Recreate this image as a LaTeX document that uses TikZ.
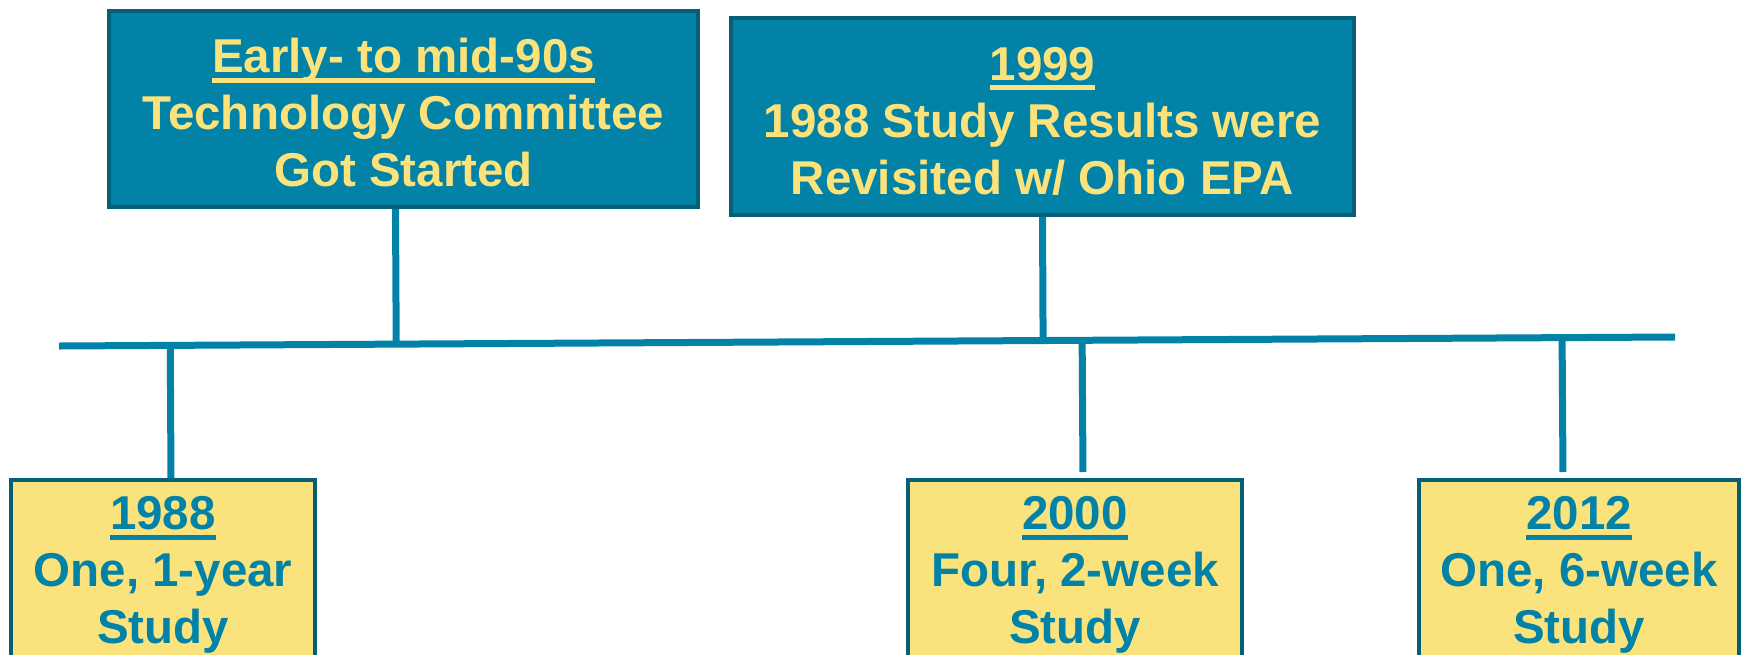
\documentclass[tikz,border=0pt]{standalone}
\usepackage{fontspec}
\setmainfont{Liberation Sans}
\usetikzlibrary{calc}

\definecolor{oceanfill}{RGB}{2,130,167}
\definecolor{oceanedge}{RGB}{5,95,118}
\definecolor{sandfill}{RGB}{250,227,124}
\definecolor{sandtext}{RGB}{251,226,122}

% underlined year heading
\newcommand\yearmark[1]{\setbox0=\hbox{#1}\rlap{\rule[-10pt]{\wd0}{5pt}}\box0}
% invisible struts that nudge a text block inside its box
\newcommand\headroom{\rule{0pt}{42pt}}
\newcommand\footroom{\rule[-14pt]{0pt}{14pt}}

\begin{document}
\begin{tikzpicture}[x=1pt,y=-1pt,
  eventtext/.style={font=\bfseries\fontsize{47.5}{57}\selectfont, align=center, inner sep=0pt},
  upperbox/.style={eventtext, draw=oceanedge, line width=4pt, fill=oceanfill, text=sandtext},
  lowerbox/.style={eventtext, draw=oceanedge, line width=4pt, fill=sandfill, text=oceanfill},
  stem/.style={draw=oceanfill, line width=7pt},
  axisline/.style={draw=oceanfill, line width=7pt}]

\useasboundingbox (0,0) rectangle (1743,654);
\clip (0,0) rectangle (1743,654);

% upper events
\node[upperbox, minimum width=589pt, minimum height=196pt] (early) at (403.5,109)
  {\headroom\yearmark{Early- to mid-90s}\\Technology Committee\\Got Started};
\node[upperbox, minimum width=623pt, minimum height=197pt] (revisit) at (1042.5,116.5)
  {\headroom\yearmark{1999}\\1988 Study Results were\\Revisited w/ Ohio EPA};

% lower events
\node[lowerbox, minimum width=304pt, minimum height=194pt] (y1988) at (163,577)
  {\yearmark{1988}\\One, 1-year\\Study\footroom};
\node[lowerbox, minimum width=334pt, minimum height=194pt] (y2000) at (1075,577)
  {\yearmark{2000}\\Four, 2-week\\Study\footroom};
\node[lowerbox, minimum width=320pt, minimum height=194pt] (y2012) at (1579,577)
  {\yearmark{2012}\\One, 6-week\\Study\footroom};

% time axis
\coordinate (axisL) at (59,346);
\coordinate (axisR) at (1675,337);
\draw[axisline] (axisL) -- (axisR);

% stems from the upper boxes down to the axis
\coordinate (earlyfoot) at ([xshift=-8pt]early.south);
\coordinate (revisitfoot) at (revisit.south);
\draw[stem] (earlyfoot) -- ($(axisL)!(earlyfoot)!(axisR)$);
\draw[stem] (revisitfoot) -- ($(axisL)!(revisitfoot)!(axisR)$);

% stems from the axis down to the lower boxes
\coordinate (top1988) at ([xshift=8pt]y1988.north);
\coordinate (top2000) at ([xshift=8pt]y2000.north);
\coordinate (top2012) at ([xshift=-16pt]y2012.north);
\draw[stem] ($(axisL)!(top1988)!(axisR)$) -- (top1988);
\draw[stem, shorten >=6pt] ($(axisL)!(top2000)!(axisR)$) -- (top2000);
\draw[stem, shorten >=6pt] ($(axisL)!(top2012)!(axisR)$) -- (top2012);
\end{tikzpicture}
\end{document}
